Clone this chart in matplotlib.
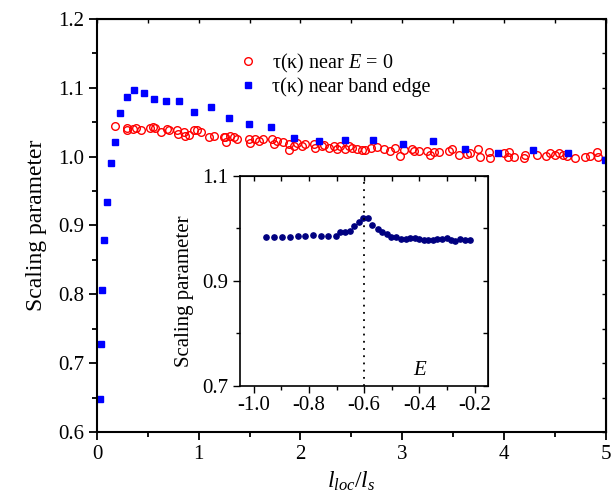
import numpy as np
import matplotlib
matplotlib.use("Agg")
import matplotlib.pyplot as plt
from matplotlib.ticker import MultipleLocator

plt.rcParams["font.family"] = ["Liberation Serif", "DejaVu Serif"]
plt.rcParams["mathtext.fontset"] = "custom"
plt.rcParams["mathtext.rm"] = "Liberation Serif"
plt.rcParams["mathtext.it"] = "Liberation Serif:italic"

# tau(kappa) near band edge (blue squares)
edge_x = [0.03, 0.036, 0.05, 0.07, 0.10, 0.135, 0.177, 0.226, 0.292, 0.367,
          0.456, 0.561, 0.676, 0.807, 0.955, 1.119, 1.299, 1.496, 1.71, 1.939,
          2.185, 2.441, 2.714, 3.005, 3.304, 3.615, 3.947, 4.284, 4.636, 4.993]
edge_y = [0.648, 0.728, 0.806, 0.879, 0.934, 0.990, 1.021, 1.063, 1.086, 1.097,
          1.092, 1.083, 1.080, 1.080, 1.0645, 1.072, 1.056, 1.047, 1.043, 1.027,
          1.022, 1.024, 1.024, 1.018, 1.022, 1.011, 1.005, 1.009, 1.005, 0.995]

# tau(kappa) near E = 0 (red open circles)
zero_x = [0.177, 0.292, 0.292, 0.357, 0.381, 0.43, 0.52, 0.554, 0.57, 0.627,
          0.686, 0.709, 0.79, 0.80, 0.85, 0.866, 0.908, 0.948, 0.981, 1.024,
          1.102, 1.145, 1.243, 1.26, 1.27, 1.309, 1.342, 1.375, 1.49, 1.506,
          1.555, 1.588, 1.627, 1.72, 1.735, 1.769, 1.824, 1.883, 1.89, 1.932,
          1.965, 2.015, 2.047, 2.13, 2.146, 2.21, 2.227, 2.277, 2.326, 2.359,
          2.392, 2.441, 2.48, 2.507, 2.556, 2.605, 2.638, 2.694, 2.753, 2.818,
          2.877, 2.933, 2.982, 3.015, 3.097, 3.12, 3.162, 3.245, 3.278, 3.31,
          3.36, 3.458, 3.49, 3.556, 3.639, 3.671, 3.747, 3.77, 3.85, 3.868,
          4.0, 4.042, 4.048, 4.098, 4.196, 4.213, 4.328, 4.41, 4.459, 4.508,
          4.54, 4.58, 4.623, 4.698, 4.803, 4.852, 4.918, 4.928]
zero_y = [1.045, 1.042, 1.038, 1.040, 1.042, 1.039, 1.042, 1.043, 1.041, 1.036,
          1.040, 1.038, 1.038, 1.033, 1.035, 1.030, 1.031, 1.038, 1.038, 1.035,
          1.028, 1.030, 1.029, 1.028, 1.021, 1.030, 1.028, 1.026, 1.026, 1.020,
          1.026, 1.023, 1.026, 1.026, 1.018, 1.023, 1.021, 1.018, 1.010, 1.016,
          1.020, 1.015, 1.018, 1.018, 1.012, 1.015, 1.017, 1.013, 1.015, 1.011,
          1.015, 1.011, 1.015, 1.013, 1.011, 1.010, 1.009, 1.013, 1.014, 1.011,
          1.008, 1.013, 1.001, 1.010, 1.011, 1.008, 1.008, 1.008, 1.003, 1.006,
          1.006, 1.008, 1.011, 1.003, 1.004, 1.005, 1.011, 0.999, 1.007, 0.998,
          1.005, 1.000, 1.007, 1.000, 0.998, 1.002, 1.002, 1.001, 1.005, 1.002,
          1.005, 1.002, 1.001, 0.998, 1.000, 1.001, 1.006, 0.999]

# inset: scaling parameter vs E
inset_E = [-0.954, -0.926, -0.898, -0.869, -0.841, -0.814, -0.786, -0.758, -0.730, -0.703,
           -0.686, -0.670, -0.652, -0.636, -0.618, -0.604, -0.586, -0.570, -0.551, -0.535,
           -0.519, -0.501, -0.483, -0.467, -0.449, -0.434, -0.416, -0.401, -0.384, -0.368,
           -0.352, -0.336, -0.317, -0.301, -0.286, -0.269, -0.251, -0.233, -0.217]
inset_tau = [0.983, 0.984, 0.984, 0.984, 0.985, 0.985, 0.987, 0.985, 0.986, 0.986,
             0.992, 0.993, 0.995, 1.005, 1.011, 1.019, 1.019, 1.007, 0.998, 0.993,
             0.989, 0.983, 0.983, 0.980, 0.980, 0.981, 0.982, 0.979, 0.978, 0.978,
             0.978, 0.979, 0.979, 0.981, 0.978, 0.975, 0.979, 0.977, 0.977]

fig = plt.figure(figsize=(6.11, 4.96), dpi=100)
ax = fig.add_axes([0.159, 0.129, 0.832, 0.833])

ax.plot(zero_x, zero_y, "o", ls="none", mfc="none", mec="#ff0000", mew=1.0, ms=5.5,
        label=r"τ(κ) near $E$ = 0")
ax.plot(edge_x, edge_y, "s", ls="none", color="#0000ff", ms=4.5,
        label="τ(κ) near band edge")

ax.set_xlim(0, 5)
ax.set_ylim(0.6, 1.2)
ax.xaxis.set_major_locator(MultipleLocator(1))
ax.xaxis.set_minor_locator(MultipleLocator(0.5))
ax.yaxis.set_minor_locator(MultipleLocator(0.05))
ax.set_yticks([0.6, 0.7, 0.8, 0.9, 1.0, 1.1, 1.2])
ax.set_yticklabels(["0.6", "0.7", "0.8", "0.9", "1.0", "1.1", "1.2"])
for s in ax.spines.values():
    s.set_linewidth(1.5)
ax.tick_params(which="both", direction="out", labelsize=15, width=1.3)
ax.tick_params(which="major", length=6)
ax.tick_params(which="minor", length=3.5)
# mirrored axes: small inward ticks
ax2t = ax.secondary_xaxis("top")
ax2t.set_xticks([0, 1, 2, 3, 4, 5])
ax2t.xaxis.set_minor_locator(MultipleLocator(0.5))
ax2t.tick_params(which="both", direction="in", length=3, width=1.0, labeltop=False)
ax2r = ax.secondary_yaxis("right")
ax2r.yaxis.set_major_locator(MultipleLocator(0.1))
ax2r.yaxis.set_minor_locator(MultipleLocator(0.05))
ax2r.tick_params(which="both", direction="in", length=3, width=1.0, labelright=False)

ax.set_xlabel(r"$l_{loc}/l_s$", fontsize=17, labelpad=4)
ax.set_ylabel("Scaling parameter", fontsize=17, labelpad=8)

leg = ax.legend(loc="upper left", bbox_to_anchor=(0.258, 0.94), frameon=False,
                fontsize=14.5, handlelength=1.2, handletextpad=0.55,
                labelspacing=0.12, borderaxespad=0)

# inset
axin = fig.add_axes([0.3928, 0.2218, 0.4064, 0.424])
axin.plot(inset_E, inset_tau, "o", ls="none", color="#000080", ms=3.8)
axin.axvline(-0.6, color="black", ls=(0, (1, 3)), lw=1.3)
axin.set_xlim(-1.05, -0.15)
axin.set_ylim(0.7, 1.1)
axin.set_xticks([-1.0, -0.8, -0.6, -0.4, -0.2])
axin.set_xticklabels(["-1.0", "-0.8", "-0.6", "-0.4", "-0.2"])
axin.xaxis.set_minor_locator(MultipleLocator(0.1))
axin.set_yticks([0.7, 0.9, 1.1])
axin.set_yticklabels(["0.7", "0.9", "1.1"])
axin.yaxis.set_minor_locator(MultipleLocator(0.1))
for s in axin.spines.values():
    s.set_linewidth(1.2)
axin.tick_params(which="both", direction="out", labelsize=15, width=1.0)
axin.tick_params(which="major", length=5)
axin.tick_params(which="minor", length=3)
axin.tick_params(axis="x", pad=2)
int_t = axin.secondary_xaxis("top")
int_t.xaxis.set_major_locator(MultipleLocator(0.1))
int_t.tick_params(direction="in", length=3.5, width=1.0, labeltop=False)
int_r = axin.secondary_yaxis("right")
int_r.yaxis.set_major_locator(MultipleLocator(0.1))
int_r.tick_params(direction="in", length=3.5, width=1.0, labelright=False)
axin.set_ylabel("Scaling parameter", fontsize=15)
axin.yaxis.set_label_coords(-0.185, 0.45)
axin.text(-0.395, 0.73, r"$E$", fontsize=15, ha="center", va="center")

fig.savefig("out.png", dpi=100)
